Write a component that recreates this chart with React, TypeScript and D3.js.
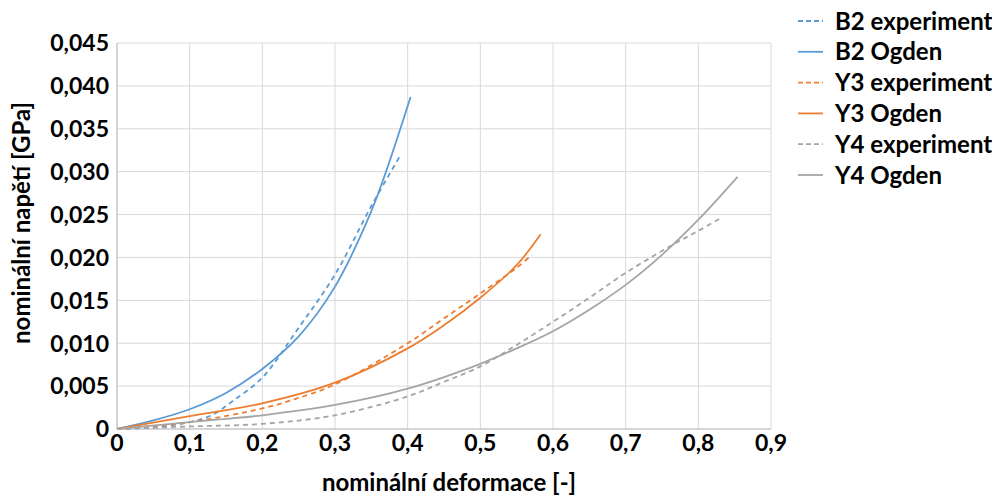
import React from "react";
import * as d3 from "d3";

const xTicks = [0, 0.1, 0.2, 0.3, 0.4, 0.5, 0.6, 0.7, 0.8, 0.9];
const yTicks = [0, 0.005, 0.01, 0.015, 0.02, 0.025, 0.03, 0.035, 0.04, 0.045];

const b2ExpX = [0, 0.05, 0.1, 0.13, 0.16, 0.2, 0.25, 0.3, 0.35, 0.39];
const b2ExpY = [0, 0.0002, 0.0008, 0.0016, 0.0033, 0.006, 0.0118, 0.018, 0.026, 0.0319];
const b2OgX = [0, 0.05, 0.1, 0.15, 0.2, 0.25, 0.3, 0.348, 0.371, 0.404];
const b2OgY = [0, 0.001, 0.0023, 0.0042, 0.007, 0.0108, 0.0166, 0.025, 0.0302, 0.0387];
const y3ExpX = [0, 0.1, 0.2, 0.238, 0.3, 0.4, 0.45, 0.5, 0.55, 0.571];
const y3ExpY = [0, 0.0008, 0.0024, 0.0033, 0.0052, 0.01, 0.0129, 0.0158, 0.0188, 0.0203];
const y3OgX = [0, 0.1, 0.2, 0.3, 0.4, 0.45, 0.5, 0.55, 0.583];
const y3OgY = [0, 0.0015, 0.003, 0.0054, 0.0094, 0.0121, 0.0153, 0.0191, 0.0227];
const y4ExpX = [0, 0.1, 0.2, 0.3, 0.4, 0.45, 0.5, 0.55, 0.6, 0.65, 0.7, 0.765, 0.8, 0.829];
const y4ExpY = [0, 0.0003, 0.0006, 0.0016, 0.0038, 0.0055, 0.0073, 0.0098, 0.0125, 0.0153, 0.0182, 0.0215, 0.0231, 0.0245];
const y4OgX = [0, 0.1, 0.2, 0.3, 0.4, 0.5, 0.55, 0.6, 0.65, 0.7, 0.75, 0.8, 0.854];
const y4OgY = [0, 0.0008, 0.0016, 0.0028, 0.0047, 0.0076, 0.0094, 0.0114, 0.0139, 0.0168, 0.0203, 0.0244, 0.0294];

const seriesNames = ["B2 experiment", "B2 Ogden", "Y3 experiment", "Y3 Ogden", "Y4 experiment", "Y4 Ogden"];
const seriesX = [b2ExpX, b2OgX, y3ExpX, y3OgX, y4ExpX, y4OgX];
const seriesY = [b2ExpY, b2OgY, y3ExpY, y3OgY, y4ExpY, y4OgY];
const seriesColor = ["#5b9bd5", "#5b9bd5", "#ed7d31", "#ed7d31", "#a5a5a5", "#a5a5a5"];
const seriesDashed = [true, false, true, false, true, false];

const W = 992;
const H = 496;
const FONT = "Lato, 'Open Sans', sans-serif";

export default function App() {
  const x = d3.scaleLinear().domain([0, 0.9]).range([117, 771]);
  const y = d3.scaleLinear().domain([0, 0.045]).range([429, 43]);
  const line = d3
    .line<[number, number]>()
    .x((d) => x(d[0]))
    .y((d) => y(d[1]))
    .curve(d3.curveCatmullRom.alpha(0.5));
  const fmtY = (v: number) => (v === 0 ? "0" : v.toFixed(3).replace(".", ","));
  const fmtX = (v: number) => (v === 0 ? "0" : v.toFixed(1).replace(".", ","));

  return (
    <svg width={W} height={H} style={{ position: "absolute", left: 0, top: 0, background: "#fff" }}>
      <rect x={0} y={0} width={W} height={H} fill="#fff" />
      {yTicks.map((t) => (
        <line key={"gy" + t} x1={x(0)} x2={x(0.9)} y1={y(t)} y2={y(t)} stroke="#d9d9d9" strokeWidth={1} />
      ))}
      {xTicks.map((t) => (
        <line key={"gx" + t} x1={x(t)} x2={x(t)} y1={y(0)} y2={y(0.045)} stroke="#d9d9d9" strokeWidth={1} />
      ))}
      <line x1={x(0)} x2={x(0)} y1={y(0)} y2={y(0.045)} stroke="#bfbfbf" strokeWidth={1} />
      <line x1={x(0)} x2={x(0.9)} y1={y(0)} y2={y(0)} stroke="#bfbfbf" strokeWidth={1} />
      {seriesNames.map((name, i) => {
        const pts = seriesX[i].map((v, j) => [v, seriesY[i][j]] as [number, number]);
        return (
          <path
            key={name}
            d={line(pts) || ""}
            fill="none"
            stroke={seriesColor[i]}
            strokeWidth={1.8}
            strokeDasharray={seriesDashed[i] ? "5,4" : undefined}
          />
        );
      })}
      {yTicks.map((t) => (
        <text
          key={"ty" + t}
          x={109}
          y={y(t)}
          dy="0.36em"
          textAnchor="end"
          fontFamily={FONT}
          fontWeight="bold"
          fontSize={23}
          fill="#000"
        >
          {fmtY(t)}
        </text>
      ))}
      {xTicks.map((t) => (
        <text
          key={"tx" + t}
          x={x(t)}
          y={451}
          textAnchor="middle"
          fontFamily={FONT}
          fontWeight="bold"
          fontSize={23}
          fill="#000"
        >
          {fmtX(t)}
        </text>
      ))}
      <text x={449} y={491} textAnchor="middle" fontFamily={FONT} fontWeight="bold" fontSize={24} fill="#000">
        nominální deformace [-]
      </text>
      <text
        transform={`translate(30,223) rotate(-90)`}
        textAnchor="middle"
        fontFamily={FONT}
        fontWeight="bold"
        fontSize={24}
        fill="#000"
      >
        nominální napětí [GPa]
      </text>
      {seriesNames.map((name, i) => {
        const cy = 21 + i * 30.8;
        return (
          <g key={"lg" + name}>
            <line
              x1={798}
              x2={823}
              y1={cy}
              y2={cy}
              stroke={seriesColor[i]}
              strokeWidth={1.8}
              strokeDasharray={seriesDashed[i] ? "5,3" : undefined}
            />
            <text x={835} y={cy} dy="0.36em" fontFamily={FONT} fontWeight="bold" fontSize={24} fill="#000">
              {name}
            </text>
          </g>
        );
      })}
    </svg>
  );
}
